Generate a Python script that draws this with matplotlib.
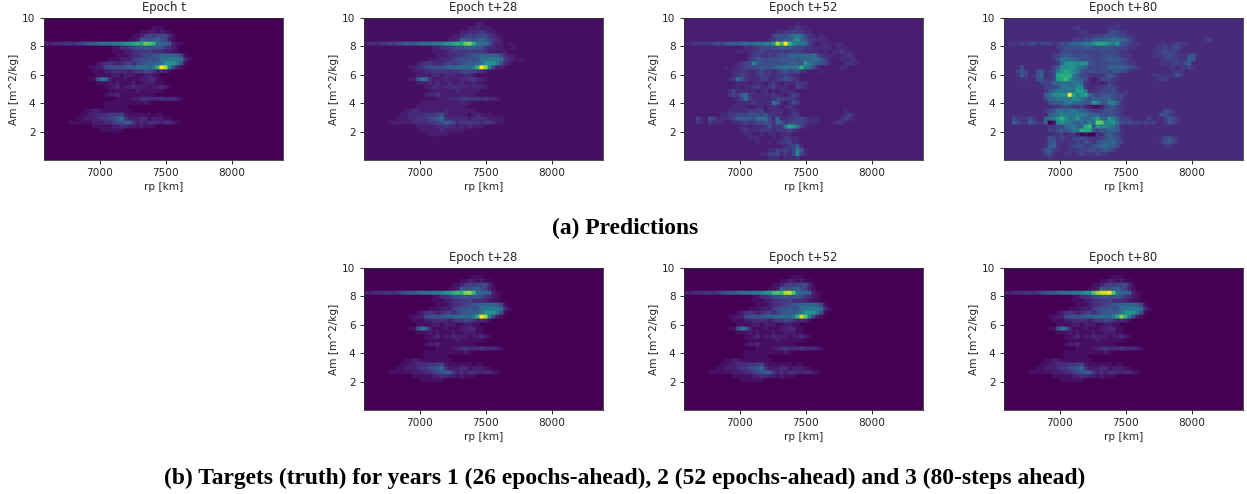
import matplotlib
matplotlib.use('Agg')
import matplotlib.pyplot as plt
import numpy as np

plt.rcParams['font.size'] = 7.6
plt.rcParams['text.color'] = '#262626'
plt.rcParams['axes.labelcolor'] = '#262626'
plt.rcParams['axes.edgecolor'] = '#333333'
plt.rcParams['xtick.labelcolor'] = '#262626'
plt.rcParams['ytick.labelcolor'] = '#262626'
plt.rcParams['axes.linewidth'] = 0.6
plt.rcParams['xtick.major.size'] = 2.6
plt.rcParams['ytick.major.size'] = 2.6
plt.rcParams['xtick.major.width'] = 0.6
plt.rcParams['ytick.major.width'] = 0.6

N_ROWS = 36
N_COLS = 60

# cell levels, 'a' = 0 up to 'z' = 25, top row first, short rows are
# filled up with the background level of the panel
epoch_t = [
    '', '',
    'aaaaaaaaaaaaaaaaaaaaaaaaaaabbbaa',
    'aaaaaaaaaaaaaaaaaaaaaaaabbccbcbba',
    'aaaaaaaaaaaaaaaaaaaaaabbcefeffgdba',
    'aaaaaaaaaaaaaaaaaaaaabbchgghigfcba',
    'dcdddeedefghhijjjkklnnpqptsqjiihcbba',
    'aaaaaaaaaaaaaaaaabbddefgghgghgedcba',
    'aaaaaaaaaaaaaaaaabbbccdeeefdddccbba',
    'aaaaaaaaaaaaaaaaaabbbcddeffhhiiiihfba',
    'aaaaaaaaaaaaaaaabbbcccefgghggjjkkkjdb',
    'aaaaaaaaaaaaabcdedcdefdfghhhijnnnkgba',
    'aaaaaaaaaaabbccfgggghiijjjikqzwlfcb',
    'aaaaaaaaaaaabbbccddddcdeeffecdcb',
    'aaaaaaaaaaaaabbbbccbcccbbccbba',
    'aaaaaaaaaaabbgkjdbbbcbbbccddbba',
    'aaaaaaaaaaaaabbbcbcbbbcbbcccbba',
    'aaaaaaaaaaaaaaabbcdbccdcccbccdcb',
    'aaaaaaaaaaaaaaaabbbbbbbcbbbbbba',
    'aaaaaaaaaaaaaaabccdbbbbbbbbba',
    'aaaaaaaaaaaaaaaaaabbbbccdedddedddcb',
    'aaaaaaaaaaaaaaabbbbbbbbbbcb',
    'aaaaaaaaaaaaaaabbbbbb',
    'aaaaaaaaaabbccbbbbbbbba',
    'aaaaaaaaabbccdddeeefcbbbbbbabb',
    'aaaaaaaabbcccdeefghjecccddbcccbba',
    'aaaaaabbbbbbcccddefghhecdcdddcddcb',
    'aaaaaaaaaaaabbbbbccddccbcbbba',
    'aaaaaaaaaaaaaabbbbbbaaa',
]

pred_28 = [
    '', 'bbbbbbbbbbbbbbbbbbbbbbbbbbbbccb',
    'bbbbbbbbbbbbbbbbbbbbbbbbbbccdcccb',
    'bbbbbbbbbbbbbbbbbbbbbbbbccdddedccb',
    'bbbbbbbbbbbbbbbbbbbbbbccdefeffgedcb',
    'bbbbbbbbbbbbbbbbbbbbbccdhhgghihfedcbb',
    'cdddeefefghhhijjjkklnnpqptuqkjjhdccbcb',
    'bbbbbbbbbbbbbbbbbccdeefgghhhhgeddccbbcb',
    'bbbbbbbbbbbbbbbbbccccdeeeefeeedcccccb',
    'bbbbbbbbbbbbbbbbbbcccddeeffhhiiiihgdccb',
    'bbbbbbbbbbbbbbbbcccdddefgghggjjkkkjedcbcb',
    'bbbbbbbbbbbbbcdeedddefefghhhijnnnkgdcb',
    'bbbbbbbbbbbccddfgggghiijjjikqzvlfccb',
    'bbbbbbbbbbbbcccddeeeedeeffffedcb',
    'bbbbbbbbbbbbbccccddcdddccddcb',
    'bbbbbbbbbbbccgkjecccdcccddeedcc',
    'bbbbbbbbbbbbbcccdcdccdccdccdccb',
    'bbbbbbbbbbbbbbbccddcddedddcdddcb',
    'bbbbbbbbbbbbbbbbcccccccdcccccbb',
    'bbbbbbbbbbbbbbbcddecccccccccb',
    'bbbbbbbbbbbbbbbbbbcccdddefeeededdcb',
    'bbbbbbbbbbbbbbccccccccccdcc',
    'bbbbbbbbbbbbbcccccccccccccb',
    'bbbbbbbbbbccddccccccdcccccccb',
    'bbbbbbbbbccddddeeefgdcccccbcdcbcb',
    'bbbbbbbbcccddeeefghjedddddcddddccccb',
    'bbbbbbccccccddddeefghhfdeeeeedeedccb',
    'bbbbbbbbbbbbbcccccddeddcdcdcccb',
    'bbbbbbbbbbbbbbcccccdcccccb',
    'bbbbbbbbbbbbbbbbccccc',
]

pred_52 = [
    '', 'ccccccccccccccccccccccccccccdc',
    'ccccccccccccccccccccccccccddeddcc',
    'cccccccccccccccccccccccddeefeeddc',
    'ccccccccccccccccccccccfggghjkjfedcdcc',
    'cccccccccccccccccccccdegghhkniheedddcc',
    'ddeeeeefgfghhhijijkjlknwrzrmkkjfdcdddcdd',
    'cccccccccccccccddeefgfgghhhgffeedddddcdddcc',
    'cccccccccccccddcdeefeeeefeeffeddddcdcddeddc',
    'ccccccccccccccccdefeefefgghiiiiijgedddcddedc',
    'ccccccccccccccccefhgfggghhhhgiiijjhfdccdddec',
    'cccccccccccccdeffmhggggggghhhgnkihgfdcccdeddc',
    'ccccccccccdcddefffghhghijkjkkqkjgdcccccddc',
    'ccccccccccccddeeddefeedefgffgedcccdc',
    'ccccccccccccdefeddefeedeefeddcc',
    'cccccccccccdejhedddefddefggedccccc',
    'cccccccccccccdddcdddcdedcdddeeec',
    'cccccccccccccdcddefddefdddccfedc',
    'cccccccccccdfdddddcdecdcddddc',
    'cccccccccccefehjedddddeddcdfec',
    'ccccccccccccddfjfdddddefeeefdcc',
    'cccccccccccccddddeddddjidcdgfcc',
    'ccccccccccccddddccddcdedcdedc',
    'cccccccccccdddddeeefcddddcdedcccccccccccdc',
    'cccccccccddeefffgggfgeeddcdeecccccccccccdfdc',
    'cccfdcgfdddefhhhhgjjjfdiddeeffedddcccccdfedc',
    'cccedcedddccddefeegfhfeihefgffedddcccdeedc',
    'ccccccccccccccddcdddegdeekpnkfdcccccccc',
    'ccccccccccccccdedddeeedeeefedccc',
    'cccccccccccccccddccdcddcdddc',
    'ccccccccccccccccdddcccdcdeeddc',
    'ccccccccccccccccccdccdcdeefddc',
    'cccccccccccccccccccccccccdefhdc',
    'cccccccccccccccccccccddfefeflhdc',
    'cccccccccccccccccccddfffdedflfdc',
    'cccccccccccccccccccccdddcdddec',
]

pred_80 = [
    '',
    'ddddddddddddddddddddddddddddedd',
    'dddddddddddddddddefdddddddeeedd',
    'dddddddddddddddddddeedddddfgfeed',
    'dddddddddddddddddddeeeeffggggffeeddddddddddddddd',
    'dddddddddddddddddefegfhhhiijjiifedddddddddddddddddef',
    'deeefefgefffeegghiijkkmppomknhgfeedddddeedefeedd',
    'dddddddddddddefggggghhggghgggffeedddddeefefgedd',
    'ddddddddddddddfggffgffffgffgfeeddddddeefgffedd',
    'ddddddddddddefghhgfggffffgggfeeedddddeeefgfeeeghed',
    'ddddddddddddegkjjihgggffgghhhgfedddddddeefefeeihd',
    'dddddddddddddeimnnmnnhgfffggggfeeddddddeeeffeghd',
    'ddddgdddddddfhmmnnkjifgfgghiiiiggedddddddeedeefed',
    'dddfhfddgheefknpomkhfggfggfghgfeddddddddddeeedd',
    'dddehfdegidefpqpqkifgeeeefhgeddddddddeeeeeehfd',
    'ddddeeddgheefoprnjihgdcdgfgeedddddddddeefd',
    'dddddddddfffiijjjkkjedcdcdfedddd',
    'ddddddddddfffgjkjjmmeddeefgfedd',
    'ddddddddddegikkjkkookdeefffgeded',
    'ddddddddddhjmmnnzpknpjgfghhgffed',
    'ddddddddddgiikkkkmmkigihhhigffddd',
    'dddddddddddghhhkkjjighnmhhllieddd',
    'ddddddddddddeefggeefdcbbcfghfeddd',
    'ddddddddddefgjjijkihhfeefghgfeddddddddddgfed',
    'dddddddddddhijmkkklkkihhggggfedddddddddggfed',
    'ddgeeegeddijknqnjknjiikoiinkhffeddddfdddehged',
    'ddhgeehgeeiabmnlkjijiljttlmnjgfgffefefddehfed',
    'dddddddddddeeffijkihprhnlmkjhddddddd',
    'dddddddddddfeghgikjqpphfhgiihedddddd',
    'ddddddddddddeefdeecabaaedghgfedddddd',
    'dddddddddddhgefedffgfeeefgihgedddddddddeghfed',
    'dddddddddddgheedeefegfeghihjgfdddddddddeghfed',
    'ddddddddddehieddefggefghijhhgdddddddddddeedd',
    'dddddddddeghfeddeeeffggfghgfdddddddddddd',
    'ddddddddddfgeddeedefeeefeedddd',
    'dddddddddddedddddddddddddd',
]

truth_28 = list(epoch_t)
truth_28[6] = 'dcdddeedefghhijjjkklnnqrquvrjiihcbba'

truth_52 = list(epoch_t)
truth_52[6] = 'dcdddeedefghhijjjkklnnrsrwxsjiihcbba'
truth_52[12] = 'aaaaaaaaaaabbccfgggghiijjjikqxtlfcb'

truth_80 = list(epoch_t)
truth_80[6] = 'dcdddeedefghhijjjkklnnsvxyzsjiihcbba'
truth_80[12] = 'aaaaaaaaaaabbccfgggghiijjjikpuqkfcb'

rp_range = [6576, 8386]
am_range = [0, 10]
x_ticks = [7000, 7500, 8000]
y_ticks = [2, 4, 6, 8, 10]


def to_cells(rows, fill):
    rows = rows + [''] * (N_ROWS - len(rows))
    cells = np.array([[ord(ch) - 97 for ch in r.ljust(N_COLS, fill)[:N_COLS]] for r in rows]) / 25
    # repeat the cells so that the smoothing only softens their edges
    return np.kron(cells, np.ones((3, 3)))


W, H = 1247, 494
fig = plt.figure(figsize=(W / 100, H / 100), dpi=100)

panel_w = 239
panel_h = 142

panels = [
    (44, 18, 'Epoch t', epoch_t, 'a'),
    (364, 18, 'Epoch t+28', pred_28, 'b'),
    (684, 18, 'Epoch t+52', pred_52, 'c'),
    (1004, 18, 'Epoch t+80', pred_80, 'd'),
    (364, 268, 'Epoch t+28', truth_28, 'a'),
    (684, 268, 'Epoch t+52', truth_52, 'a'),
    (1004, 268, 'Epoch t+80', truth_80, 'a'),
]

for left, top, title, rows, fill in panels:
    ax = fig.add_axes([left / W, 1 - (top + panel_h) / H, panel_w / W, panel_h / H])
    ax.imshow(to_cells(rows, fill), cmap='viridis', vmin=0, vmax=1, aspect='auto',
              interpolation='bilinear',
              extent=[rp_range[0], rp_range[1], am_range[0], am_range[1]])
    ax.set_title(title, fontsize=8.4, pad=5)
    ax.set_xlabel('rp [km]', labelpad=2.5)
    ax.set_ylabel('Am [m^2/kg]', labelpad=2.5)
    ax.set_xticks(x_ticks)
    ax.set_yticks(y_ticks)

caption_font = {'family': 'Liberation Serif', 'weight': 'bold', 'size': 16.9, 'color': 'black'}
fig.text(625.5 / W, 1 - 228 / H, '(a) Predictions', ha='center', va='center', **caption_font)
fig.text(625 / W, 1 - 478 / H, '(b) Targets (truth) for years 1 (26 epochs-ahead), 2 (52 epochs-ahead) and 3 (80-steps ahead)',
         ha='center', va='center', **caption_font)

plt.savefig('out.png', dpi=100)
